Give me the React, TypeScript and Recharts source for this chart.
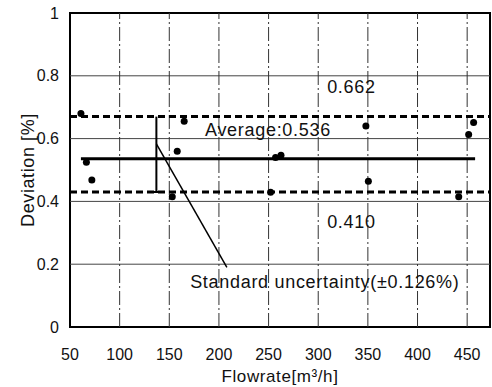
import React from 'react';
import {
  ComposedChart, Scatter, XAxis, YAxis, ReferenceLine, ReferenceArea
} from 'recharts';

// measured points
const flowrate = [61, 66.5, 72, 153, 158, 165, 252, 257, 262.5, 348, 350.5, 441.5, 451.5, 456.5];
const deviation = [0.68, 0.525, 0.468, 0.415, 0.56, 0.655, 0.429, 0.54, 0.547, 0.64, 0.464, 0.415, 0.613, 0.651];

const xTicks = [50, 100, 150, 200, 250, 300, 350, 400, 450];
const yTicks = [0, 0.2, 0.4, 0.6, 0.8, 1];

const average = 0.536;
const averageSpan = [61, 458];
// limits as drawn in the figure (labelled 0.662 / 0.410)
const upperLimit = 0.67;
const lowerLimit = 0.43;
const errorBarX = 137;
const leaderFrom = { x: 137, y: 0.583 };
const leaderTo = { x: 208, y: 0.19 };

const noteText = ['0.662', 'Average:0.536', '0.410', 'Standard uncertainty(\u00b10.126%)'];
const noteX = [309, 186, 309, 171];
const noteY = [0.763, 0.627, 0.334, 0.143];

const points = flowrate.map((x, i) => ({ x, y: deviation[i] }));
const notes = noteText.map((text, i) => ({ x: noteX[i], y: noteY[i], text }));

const font = '"Liberation Sans", Arial, sans-serif';

const NoteShape = (props: any) => (
  <text
    x={props.cx}
    y={props.cy}
    dominantBaseline="central"
    fontSize={18}
    letterSpacing={0.7}
    fontFamily={font}
    fill="#111"
  >
    {props.payload.text}
  </text>
);

const App = () => {
  return (
    <div style={{ position: 'absolute', left: 0, top: 0, background: '#fff' }}>
      <ComposedChart
        width={492}
        height={387}
        margin={{ top: 13, right: 2, bottom: 0, left: 0 }}
        style={{ fontFamily: font }}
      >
        <XAxis
          type="number"
          dataKey="x"
          domain={[50, 473]}
          ticks={xTicks}
          height={60}
          tickLine={false}
          axisLine={false}
          tickMargin={16}
          tick={{ fontSize: 16, fill: '#111' }}
          label={{ value: 'Flowrate[m\u00b3/h]', position: 'insideBottom', offset: 5, fontSize: 17, letterSpacing: 0.6, fill: '#111' }}
        />
        <YAxis
          type="number"
          dataKey="y"
          domain={[0, 1]}
          ticks={yTicks}
          width={70}
          tickLine={false}
          axisLine={false}
          tickMargin={5}
          tick={{ fontSize: 16, fill: '#111' }}
          label={{ value: 'Deviation [%]', angle: -90, position: 'center', dx: -7, fontSize: 18, letterSpacing: 0.6, fill: '#111' }}
        />

        {yTicks.slice(1, -1).map((v) => (
          <ReferenceLine key={'h' + v} y={v} stroke="#444" strokeWidth={1} />
        ))}
        {xTicks.slice(1).map((v) => (
          <ReferenceLine key={'v' + v} x={v} stroke="#333" strokeWidth={1} strokeDasharray="14 3 2 3" />
        ))}

        <ReferenceLine y={upperLimit} stroke="#000" strokeWidth={3} strokeDasharray="7 4" />
        <ReferenceLine y={lowerLimit} stroke="#000" strokeWidth={3} strokeDasharray="7 4" />
        <ReferenceLine
          segment={[{ x: averageSpan[0], y: average }, { x: averageSpan[1], y: average }]}
          stroke="#000"
          strokeWidth={3}
        />
        <ReferenceLine
          segment={[{ x: errorBarX, y: upperLimit }, { x: errorBarX, y: lowerLimit }]}
          stroke="#000"
          strokeWidth={2}
        />
        <ReferenceLine
          segment={[{ x: errorBarX - 5, y: lowerLimit }, { x: errorBarX + 4, y: lowerLimit }]}
          stroke="#000"
          strokeWidth={2}
        />
        <ReferenceLine segment={[leaderFrom, leaderTo]} stroke="#000" strokeWidth={1.5} />

        <ReferenceArea x1={50} x2={473} y1={0} y2={1} fill="none" stroke="#000" strokeWidth={2} />

        <Scatter data={points} dataKey="y" fill="#000" shape={(p: any) => <circle cx={p.cx} cy={p.cy} r={3.5} fill="#000" />} isAnimationActive={false} />
        <Scatter data={notes} dataKey="y" shape={NoteShape} isAnimationActive={false} />
      </ComposedChart>
    </div>
  );
};

export default App;
